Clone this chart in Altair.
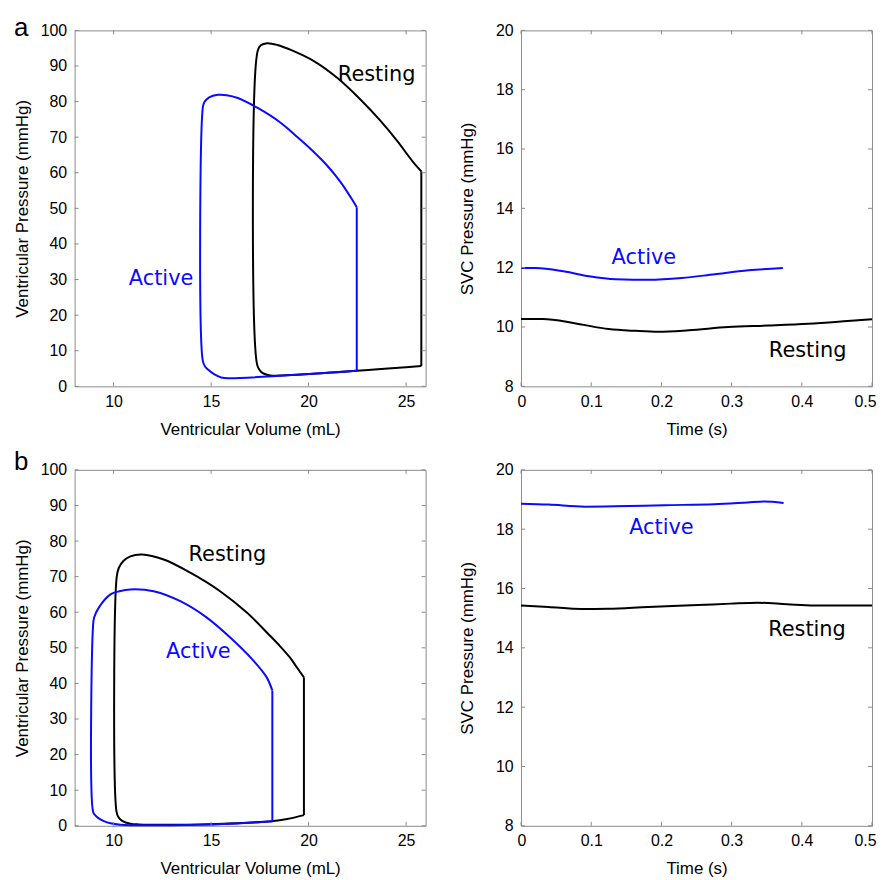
import altair as alt
import pandas as pd

# ---------------- data ----------------
# Panel a, pressure-volume loops (first two points: isovolumic contraction)
A_REST_V = [25.78, 25.78, 25.32, 24.55, 23.70, 22.67, 21.48, 20.29, 19.09, 18.40, 17.87, 17.55, 17.39,
            17.36, 17.50, 17.65, 17.90, 18.16, 25.78]
A_REST_P = [5.7, 60.4, 63.3, 68.9, 74.5, 80.5, 86.6, 91.3, 94.5, 95.9, 96.4, 95.8, 94.3,
            6.1, 4.5, 3.7, 3.2, 3.0, 5.7]
A_ACT_V = [22.47, 22.47, 22.16, 21.65, 20.97, 20.12, 19.26, 18.58, 17.39, 16.37, 15.80, 15.35, 14.90,
           14.65, 14.58, 14.58, 14.70, 14.84, 15.15, 15.52, 15.90, 22.47]
A_ACT_P = [4.4, 50.3, 53.1, 57.3, 61.9, 66.6, 70.8, 74.0, 78.2, 81.0, 81.8, 81.9, 81.2,
           79.8, 78.5, 7.0, 5.5, 4.7, 3.4, 2.5, 2.3, 4.4]

# Panel a, SVC pressure
A_SVC_ACT_T = [0, 0.021, 0.064, 0.097, 0.135, 0.182, 0.229, 0.276, 0.324, 0.373]
A_SVC_ACT_P = [11.99, 11.99, 11.86, 11.71, 11.61, 11.59, 11.65, 11.78, 11.91, 11.99]
A_SVC_REST_T = [0, 0.031, 0.078, 0.125, 0.163, 0.196, 0.239, 0.295, 0.352, 0.409, 0.465, 0.5]
A_SVC_REST_P = [10.27, 10.27, 10.12, 9.93, 9.87, 9.84, 9.89, 10.0, 10.05, 10.11, 10.20, 10.26]

# Panel b, pressure-volume loops
B_REST_V = [19.76, 19.76, 19.40, 19.04, 18.53, 18.02, 16.83, 15.46, 13.93, 12.57, 11.46, 10.86, 10.50,
            10.27, 10.16, 10.15, 10.25, 10.44, 10.86, 11.30, 14.44, 16.14, 18.10, 18.90, 19.76]
B_REST_P = [3.0, 41.7, 44.5, 47.3, 50.5, 53.4, 59.9, 65.9, 71.1, 74.8, 76.2, 75.7, 74.4,
            72.5, 70.0, 3.9, 2.4, 1.4, 0.6, 0.4, 0.4, 0.7, 1.3, 1.9, 3.0]
B_ACT_V = [18.14, 18.14, 17.85, 17.17, 15.98, 14.78, 13.42, 12.05, 10.86, 10.30, 9.84, 9.24, 9.00,
           8.95, 8.95, 9.05, 9.24, 9.50, 9.84, 10.35, 14.44, 16.14, 17.20, 18.14]
B_ACT_P = [1.3, 38.0, 41.7, 46.4, 52.9, 58.5, 63.1, 65.9, 66.4, 65.9, 65.0, 61.3, 58.5,
           56.6, 3.9, 3.0, 2.1, 1.3, 0.7, 0.3, 0.3, 0.6, 0.9, 1.3]

# Panel b, SVC pressure
B_SVC_ACT_T = [0, 0.039, 0.091, 0.133, 0.204, 0.275, 0.323, 0.346, 0.374]
B_SVC_ACT_P = [18.86, 18.83, 18.76, 18.77, 18.81, 18.84, 18.90, 18.93, 18.88]
B_SVC_REST_T = [0, 0.039, 0.086, 0.124, 0.181, 0.252, 0.299, 0.337, 0.379, 0.417, 0.5]
B_SVC_REST_P = [15.43, 15.38, 15.31, 15.32, 15.38, 15.44, 15.49, 15.52, 15.47, 15.43, 15.43]

# Annotation labels (series, x, y)
SERIES = ["Active", "Resting"]
A_PV_LABEL_X = [10.78, 21.5]
A_PV_LABEL_Y = [28.5, 85.8]
A_SVC_LABEL_X = [0.129, 0.353]
A_SVC_LABEL_Y = [12.13, 8.98]
B_PV_LABEL_X = [12.69, 13.84]
B_PV_LABEL_Y = [47.1, 74.5]
B_SVC_LABEL_X = [0.154, 0.352]
B_SVC_LABEL_Y = [17.85, 14.4]

PANEL_LETTERS = ["a", "b"]

# Axes
PV_X_TICKS = [10, 15, 20, 25]
PV_Y_TICKS = [0, 10, 20, 30, 40, 50, 60, 70, 80, 90, 100]
SVC_X_TICKS = [0, 0.1, 0.2, 0.3, 0.4, 0.5]
SVC_Y_TICKS = [8, 10, 12, 14, 16, 18, 20]

# ---------------- styling ----------------
W, H = 353, 358
BLUE = "#0a0aff"
FRAME = "#8a8a8a"
TICK_LEN = 4


def curves_df(rest_x, rest_y, act_x, act_y, split_vertical):
    """Each series is one path; for the loops the first (isovolumic) segment is
    drawn as its own straight piece so the curve smoothing keeps a sharp corner."""
    rows = []
    for s, xs, ys in (("Resting", rest_x, rest_y), ("Active", act_x, act_y)):
        pts = list(zip(xs, ys))
        pieces = [pts[:2], pts[1:]] if split_vertical else [pts]
        for k, piece in enumerate(pieces):
            for i, (x, y) in enumerate(piece):
                rows.append({"x": x, "y": y, "s": s, "k": f"{s}-{k}", "i": i})
    return pd.DataFrame(rows)


def labels_df(xs, ys):
    return pd.DataFrame({"s": SERIES, "x": xs, "y": ys})


def panel(curves, labels, xdom, ydom, xticks, yticks, xfmt, xtitle, ytitle,
          ytitle_pad, interp, xflush=False, letter=None, letter_size=26, letter_y=0):
    xs = alt.Scale(domain=xdom, nice=False, zero=False)
    ys = alt.Scale(domain=ydom, nice=False, zero=False)
    color = alt.Color("s:N", scale=alt.Scale(domain=SERIES, range=[BLUE, "#000000"]), legend=None)
    xflush_opts = dict(labelFlush=True, labelFlushOffset=4) if xflush else dict(labelFlush=False)
    xaxis = alt.Axis(title=xtitle, values=xticks, format=xfmt, ticks=False, tickSize=0,
                     domain=False, grid=False, labelPadding=7, titlePadding=12,
                     **xflush_opts)
    yaxis = alt.Axis(title=ytitle, values=yticks, format="d", ticks=False, tickSize=0,
                     domain=False, grid=False, labelPadding=8, titlePadding=ytitle_pad,
                     labelFlush=False)
    X = lambda: alt.X("x:Q", scale=xs, axis=xaxis)
    Y = lambda: alt.Y("y:Q", scale=ys, axis=yaxis)

    lines = alt.Chart(curves).mark_line(strokeWidth=2, interpolate=interp).encode(
        x=X(), y=Y(), color=color, detail="k:N", order="i:Q")

    xt = pd.DataFrame({"x": xticks})
    yt = pd.DataFrame({"y": yticks})
    bottom = alt.Chart(xt).mark_rule(color=FRAME, strokeWidth=1).encode(
        x=X(), y=alt.value(H), y2=alt.value(H - TICK_LEN))
    top = alt.Chart(xt).mark_rule(color=FRAME, strokeWidth=1).encode(
        x=X(), y=alt.value(0), y2=alt.value(TICK_LEN))
    left = alt.Chart(yt).mark_rule(color=FRAME, strokeWidth=1).encode(
        y=Y(), x=alt.value(0), x2=alt.value(TICK_LEN))
    right = alt.Chart(yt).mark_rule(color=FRAME, strokeWidth=1).encode(
        y=Y(), x=alt.value(W), x2=alt.value(W - TICK_LEN))

    txt = alt.Chart(labels).mark_text(align="left", baseline="alphabetic",
                                      font="DejaVu Sans", fontSize=21).encode(
        x=X(), y=Y(), text="s:N", color=color)
    layers = [lines, bottom, top, left, right, txt]
    if letter is not None:
        lt = alt.Chart(pd.DataFrame({"t": [letter]})).mark_text(
            align="left", baseline="alphabetic", font="Liberation Sans",
            fontSize=letter_size, color="black").encode(
            x=alt.value(-61), y=alt.value(letter_y), text="t:N")
        layers.append(lt)
    return alt.layer(*layers).properties(width=W, height=H)


a_pv = panel(curves_df(A_REST_V, A_REST_P, A_ACT_V, A_ACT_P, True),
             labels_df(A_PV_LABEL_X, A_PV_LABEL_Y),
             [8, 26], [0, 100], PV_X_TICKS, PV_Y_TICKS, "d",
             "Ventricular Volume (mL)", "Ventricular Pressure (mmHg)", 9, "catmull-rom",
             letter=PANEL_LETTERS[0], letter_size=26, letter_y=6)
a_svc = panel(curves_df(A_SVC_REST_T, A_SVC_REST_P, A_SVC_ACT_T, A_SVC_ACT_P, False),
              labels_df(A_SVC_LABEL_X, A_SVC_LABEL_Y),
              [0, 0.5], [8, 20], SVC_X_TICKS, SVC_Y_TICKS, "~g",
              "Time (s)", "SVC Pressure (mmHg)", 19, "monotone", xflush=True)
b_pv = panel(curves_df(B_REST_V, B_REST_P, B_ACT_V, B_ACT_P, True),
             labels_df(B_PV_LABEL_X, B_PV_LABEL_Y),
             [8, 26], [0, 100], PV_X_TICKS, PV_Y_TICKS, "d",
             "Ventricular Volume (mL)", "Ventricular Pressure (mmHg)", 9, "catmull-rom",
             letter=PANEL_LETTERS[1], letter_size=26, letter_y=0)
b_svc = panel(curves_df(B_SVC_REST_T, B_SVC_REST_P, B_SVC_ACT_T, B_SVC_ACT_P, False),
              labels_df(B_SVC_LABEL_X, B_SVC_LABEL_Y),
              [0, 0.5], [8, 20], SVC_X_TICKS, SVC_Y_TICKS, "~g",
              "Time (s)", "SVC Pressure (mmHg)", 19, "monotone", xflush=True)

chart = alt.concat(a_pv, a_svc, b_pv, b_svc, columns=2,
                   spacing={"row": 10, "column": 31}).properties(
    padding={"left": 4, "top": 4, "right": 0, "bottom": 0},
    background="white",
).configure_view(
    stroke=FRAME, strokeWidth=1
).configure_axis(
    labelFont="Liberation Sans", labelFontSize=16, labelColor="black",
    titleFont="Liberation Sans", titleFontSize=17, titleFontWeight="normal", titleColor="black",
)

chart.save("out.html", embed_options={"renderer": "svg", "actions": False})
